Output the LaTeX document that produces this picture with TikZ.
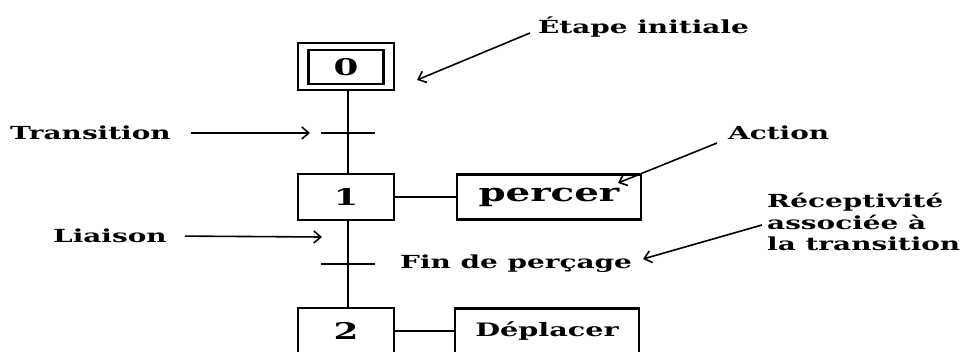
\documentclass[tikz,border=0pt]{standalone}
\usepackage{fontspec}
\setmainfont{DejaVu Serif}[FakeStretch=1.55]
\usetikzlibrary{positioning}
\usetikzlibrary{arrows.meta}

\begin{document}
\begin{tikzpicture}[x=1pt, y=-1pt]
  \useasboundingbox (0,0) rectangle (963,352);

  \tikzstyle{etape} = [draw, line width=2.4pt, minimum width=96pt, minimum height=46pt,
  inner sep=0pt, font=\bfseries\fontsize{23}{25}\selectfont]
  \tikzstyle{action} = [draw, line width=2.4pt, minimum width=184pt, minimum height=45pt,
  inner sep=0pt]
  \tikzstyle{trans} = [fill, minimum width=54pt, minimum height=2.4pt, inner sep=0pt]
  \tikzstyle{annot} = [inner sep=0pt, anchor=west, font=\bfseries\fontsize{18}{21.5}\selectfont]
  \tikzstyle{pointer} = [-{Straight Barb[length=7pt, width=12pt]}, line width=1.6pt]

% the grafcet itself
\node[etape, minimum height=47pt] (e0) at (346,66.5) {};
\node[etape, minimum width=75pt, minimum height=34pt] (e0in) at (346,67) {0};
\node[trans] (t1) at (348,133) {};
\node[etape] (e1) at (346,197) {1};
\node[trans] (t2) at (348,264) {};
\node[etape] (e2) at (346,331) {2};

\node[action, font=\bfseries\fontsize{25}{27}\selectfont] (a1) at (549,197) {percer};
\node[action, font=\bfseries\fontsize{18.5}{20}\selectfont] (a2) at (547,331) {Déplacer};

\begin{scope}[line width=2.4pt]
\draw ([xshift=2pt]e0.south) -- ([xshift=2pt]e1.north);
\draw ([xshift=2pt]e1.south) -- ([xshift=2pt]e2.north);
\draw (e1) -- (a1);
\draw (e2) -- (a2);
\end{scope}

\node[annot] (fin) at (400,264) {Fin de perçage};

% labels around it
\node[annot] (lblinit) at (538,27) {Étape initiale};
\node[annot] (lbltrans) at (10,133) {Transition};
\node[annot] (lblaction) at (728,133) {Action};
\node[annot] (lblliaison) at (53,236) {Liaison};
\node[annot, align=left] (lblrecep) at (767,222) {Réceptivité\\associée à\\la transition};

\coordinate (ptinit) at (417,80);
\coordinate (pttrans) at (310,133);
\coordinate (ptaction) at (618,183);
\coordinate (ptliaison) at (322,237);
\coordinate (ptrecep) at (643,259);

\draw[pointer] ([shift={(-8,6)}]lblinit.west) -- (ptinit);
\draw[pointer, shorten <=20pt] (lbltrans.east) -- (pttrans);
\draw[pointer] ([shift={(-11,10)}]lblaction.west) -- (ptaction);
\draw[pointer, shorten <=18pt] (lblliaison.east) -- (ptliaison);
\draw[pointer] ([shift={(-5,3)}]lblrecep.west) -- (ptrecep);

\end{tikzpicture}
\end{document}
